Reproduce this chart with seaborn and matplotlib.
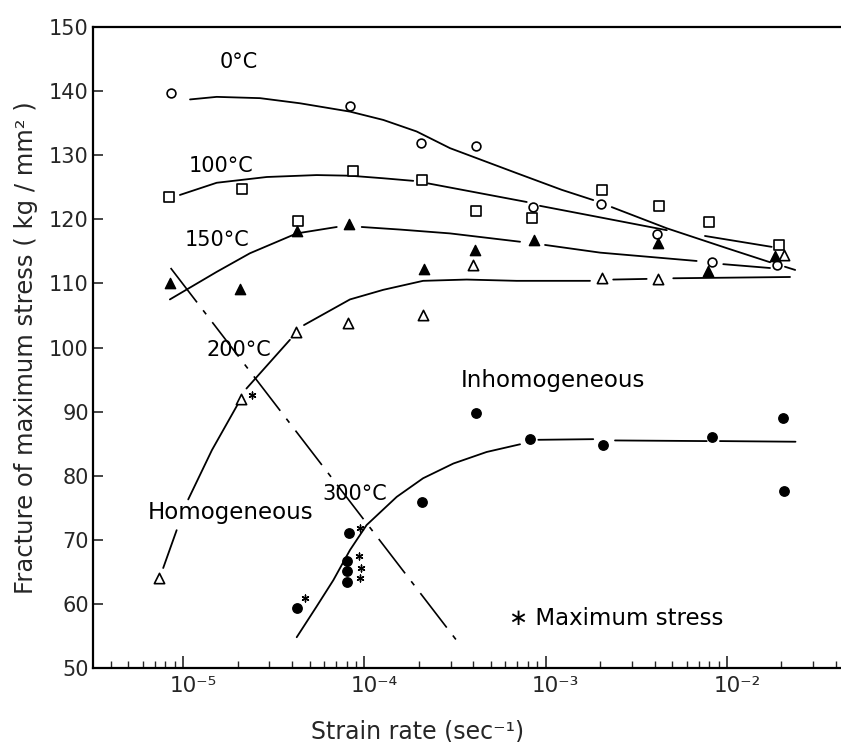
import numpy as np
import pandas as pd
import matplotlib
matplotlib.use("Agg")
import matplotlib.pyplot as plt
import matplotlib.transforms as mtransforms
from matplotlib.ticker import LogLocator, NullFormatter
import seaborn as sns

# ---------------- data (strain rate in 1/s, stress in kg/mm^2) ----------------
# 0 C : open circles
rate_0 = [8.55e-6, 8.34e-5, 2.06e-4, 4.11e-4, 8.49e-4, 2.01e-3, 4.13e-3, 8.29e-3, 1.90e-2]
stress_0 = [139.7, 137.7, 131.9, 131.5, 121.9, 122.4, 117.7, 113.3, 112.9]
# 100 C : open squares
rate_100 = [8.4e-6, 2.11e-5, 4.33e-5, 8.63e-5, 2.09e-4, 4.13e-4, 8.38e-4, 2.04e-3, 4.22e-3, 7.96e-3, 1.95e-2]
stress_100 = [123.5, 124.7, 119.7, 127.5, 126.2, 121.3, 120.2, 124.5, 122.0, 119.6, 116.0]
# 150 C : filled triangles
rate_150 = [8.48e-6, 2.06e-5, 4.24e-5, 8.26e-5, 2.13e-4, 4.09e-4, 8.63e-4, 4.17e-3, 7.83e-3, 1.84e-2]
stress_150 = [110.0, 109.1, 118.2, 119.2, 112.2, 115.2, 116.8, 116.3, 111.9, 114.2]
# 200 C : open triangles
rate_200 = [7.4e-6, 2.08e-5, 4.2e-5, 8.16e-5, 2.1e-4, 3.96e-4, 2.04e-3, 4.17e-3, 2.07e-2]
stress_200 = [64.0, 92.0, 102.4, 103.9, 105.0, 112.8, 110.8, 110.7, 114.4]
# 300 C : filled circles
rate_300 = [4.26e-5, 8.24e-5, 8.0e-5, 8.0e-5, 8.0e-5, 2.09e-4, 4.11e-4, 8.2e-4, 2.08e-3, 8.33e-3, 2.05e-2, 2.07e-2]
stress_300 = [59.3, 71.0, 66.7, 65.1, 63.4, 75.9, 89.8, 85.7, 84.8, 86.0, 89.0, 77.6]
# maximum stress (asterisks)
rate_max = [2.41e-5, 4.71e-5, 9.46e-5, 9.35e-5, 9.55e-5, 9.46e-5]
stress_max = [92.6, 60.9, 71.9, 67.5, 65.6, 64.0]

# hand-drawn curves (None = break in the drawn line)
curve0_rate = [1.094e-5, 1.535e-5, 2.66e-5, 4.42e-5, 8.34e-5, 1.274e-4, 1.945e-4, 2.97e-4,
               6.93e-4, 1.227e-3, 1.832e-3, None, 2.317e-3, 4.66e-3, 9.98e-3, 1.73e-2]
curve0_stress = [138.7, 139.1, 138.9, 138.1, 136.8, 135.5, 133.7, 131.1,
                 127.2, 124.6, 123.0, None, 121.9, 118.6, 115.5, 113.3]
curve100_rate = [9.62e-6, 1.535e-5, 2.90e-5, 5.46e-5, 8.34e-5, 1.274e-4, 1.862e-4, None,
                 2.25e-4, 7.87e-4, None, 9.31e-4, 2.0e-3, 4.66e-3, None, 7.57e-3, 1.766e-2]
curve100_stress = [123.8, 125.7, 126.6, 126.9, 126.8, 126.4, 126.0, None,
                   125.6, 122.7, None, 122.1, 120.3, 118.3, None, 117.4, 115.7]
curve150_rate = [8.47e-6, 1.535e-5, 2.34e-5, 4.24e-5, 7.05e-5, None, 9.68e-5, 1.574e-4, 2.97e-4, 7.23e-4,
                 None, 9.93e-4, 2.0e-3, 6.81e-3, None, 9.55e-3, 1.73e-2, None, 2.09e-2, 2.38e-2]
curve150_stress = [107.5, 111.8, 114.7, 117.8, 118.8, None, 118.8, 118.4, 117.8, 116.5,
                   None, 116.0, 114.8, 113.5, None, 113.0, 112.4, None, 112.6, 112.1]
curve200_rate = [7.78e-6, 9.23e-6, None, 1.069e-5, 1.445e-5, 2.02e-5, None, 2.24e-5, 3.89e-5, None,
                 4.65e-5, 8.34e-5, 1.274e-4, 2.11e-4, 3.67e-4, 6.93e-4, 1.758e-3, None,
                 2.36e-3, 3.61e-3, None, 5.06e-3, 2.23e-2]
curve200_stress = [65.6, 71.5, None, 76.3, 84.0, 91.3, None, 93.6, 101.2, None,
                   103.5, 107.5, 109.0, 110.4, 110.6, 110.4, 110.4, None,
                   110.6, 110.7, None, 110.8, 111.0]
curve300_rate = [4.24e-5, 5.46e-5, 6.75e-5, 8.34e-5, 1.03e-4, 1.51e-4, 2.11e-4, 3.10e-4, 4.73e-4, 7.23e-4,
                 None, 9.12e-4, 1.832e-3, None, 2.415e-3, 7.74e-3, None, 9.16e-3, 2.39e-2]
curve300_stress = [54.8, 59.6, 63.7, 68.4, 72.3, 76.7, 79.6, 81.9, 83.7, 84.9,
                   None, 85.6, 85.7, None, 85.5, 85.4, None, 85.4, 85.3]
# homogeneous / inhomogeneous boundary (dash-dot)
boundary_rate = [8.55e-6, 3.44e-4]
boundary_stress = [112.4, 53.3]

yticks = [50, 60, 70, 80, 90, 100, 110, 120, 130, 140, 150]
xticks = [1e-5, 1e-4, 1e-3, 1e-2]
xtick_labels = ["10⁻⁵", "10⁻⁴", "10⁻³", "10⁻²"]


def segments(xs, ys):
    rows, seg = [], 0
    for x, y in zip(xs, ys):
        if x is None:
            seg += 1
            continue
        rows.append((x, y, seg))
    return pd.DataFrame(rows, columns=["rate", "stress", "seg"])


sns.set_style("ticks")
plt.rcParams["font.family"] = ["DejaVu Sans"]

fig = plt.figure(figsize=(8.41, 7.42), dpi=100)
ax = fig.add_axes([93 / 841, 1 - 668 / 742, 748 / 841, 641 / 742])
ax.set_xscale("log")
ax.set_xlim(3.19e-6, 4.26e-2)
ax.set_ylim(50, 150)

# curves
for cx, cy in [(curve0_rate, curve0_stress), (curve100_rate, curve100_stress),
               (curve150_rate, curve150_stress), (curve200_rate, curve200_stress),
               (curve300_rate, curve300_stress)]:
    df = segments(cx, cy)
    sns.lineplot(data=df, x="rate", y="stress", units="seg", estimator=None, sort=False,
                 color="black", lw=1.3, ax=ax, legend=False)

sns.lineplot(x=boundary_rate, y=boundary_stress, color="black", lw=1.2, ax=ax,
             estimator=None, sort=False, linestyle=(0, (26, 6, 3, 6)))

# markers
sns.scatterplot(x=rate_0, y=stress_0, marker="o", s=40, facecolor="white",
                edgecolor="black", linewidth=1.2, ax=ax, zorder=3)
sns.scatterplot(x=rate_100, y=stress_100, marker="s", s=42, facecolor="white",
                edgecolor="black", linewidth=1.2, ax=ax, zorder=3)
sns.scatterplot(x=rate_150, y=stress_150, marker="^", s=55, facecolor="black",
                edgecolor="black", linewidth=1.0, ax=ax, zorder=3)
sns.scatterplot(x=rate_200, y=stress_200, marker="^", s=55, facecolor="white",
                edgecolor="black", linewidth=1.2, ax=ax, zorder=3)
sns.scatterplot(x=rate_300, y=stress_300, marker="o", s=46, facecolor="black",
                edgecolor="black", linewidth=1.0, ax=ax, zorder=3)
sns.scatterplot(x=rate_max, y=stress_max, marker=(6, 2, 0), s=24, color="black",
                linewidth=1.0, ax=ax, zorder=3)

# text labels
tkw = dict(ha="center", va="center", color="black")
ax.text(2.04e-5, 144.5, "0°C", fontsize=15, **tkw)
ax.text(1.62e-5, 128.3, "100°C", fontsize=15, **tkw)
ax.text(1.54e-5, 116.8, "150°C", fontsize=15, **tkw)
ax.text(2.04e-5, 99.6, "200°C", fontsize=15, **tkw)
ax.text(8.89e-5, 77.1, "300°C", fontsize=15, **tkw)
ax.text(1.82e-5, 74.3, "Homogeneous", fontsize=16.5, **tkw)
ax.text(1.10e-3, 94.9, "Inhomogeneous", fontsize=16.5, **tkw)
ax.text(2.45e-3, 57.8, "∗ Maximum stress", fontsize=16.5, **tkw)

# axes styling
ax.set_yticks(yticks)
ax.set_yticklabels([str(v) for v in yticks])
ax.set_xticks(xticks)
ax.set_xticklabels(xtick_labels)
ax.xaxis.set_minor_locator(LogLocator(base=10, subs=np.arange(2, 10), numticks=20))
ax.xaxis.set_minor_formatter(NullFormatter())
ax.tick_params(axis="x", which="major", direction="in", length=9, width=1.2,
               labelsize=15.5, pad=6)
ax.tick_params(axis="x", which="minor", direction="in", length=5, width=1.0)
ax.tick_params(axis="y", which="major", direction="in", length=7, width=1.2,
               labelsize=15, pad=3)
ax.tick_params(axis="y", which="minor", left=False)

offset = mtransforms.ScaledTranslation(10 / 100, 0, fig.dpi_scale_trans)
for lab in ax.get_xticklabels():
    lab.set_transform(lab.get_transform() + offset)

for side in ["left", "bottom", "top"]:
    ax.spines[side].set_visible(True)
    ax.spines[side].set_linewidth(1.6)
    ax.spines[side].set_color("black")
ax.spines["right"].set_visible(False)

ax.set_xlabel("Strain rate (sec⁻¹)", fontsize=17)
ax.set_ylabel("Fracture of maximum stress ( kg / mm² )", fontsize=17.5)
ax.xaxis.set_label_coords(0.4345, -0.08)
ax.yaxis.set_label_coords(-0.074, 0.5)

fig.savefig("out.png", dpi=100)
